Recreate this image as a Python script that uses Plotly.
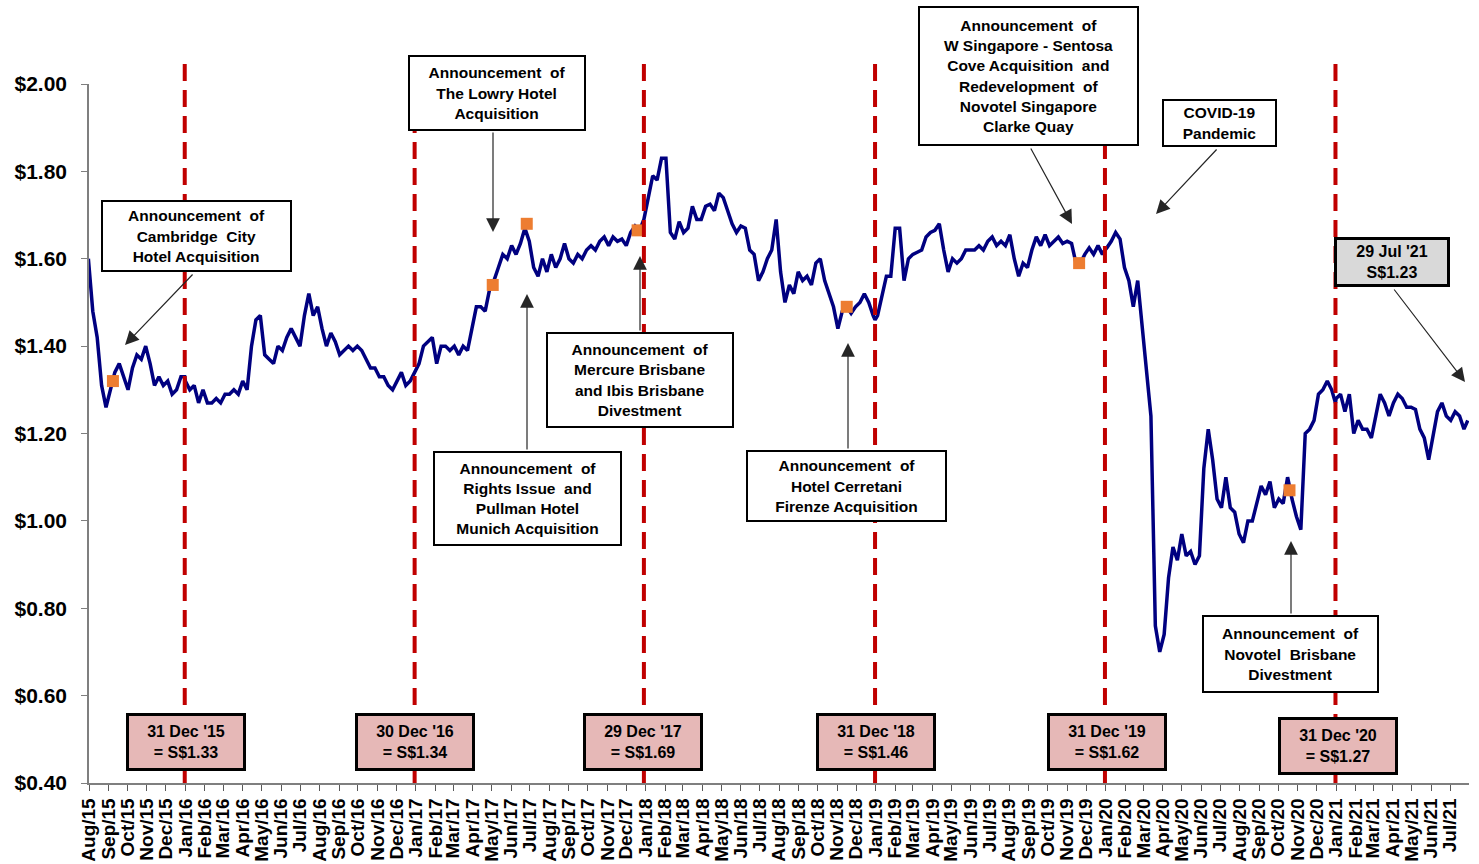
import pandas as pd
import plotly.graph_objects as go

# ---------------------------------------------------------------------------
# Data
# ---------------------------------------------------------------------------
# Weekly closing unit price (S$), Friday closes from 31 Jul 2015 to 23 Jul 2021
week_ending = pd.date_range("2015-07-31", "2021-07-23", freq="W-FRI")
weekly_close = [
    1.60, 1.48, 1.42, 1.31, 1.26, 1.30, 1.34, 1.36, 1.33, 1.30,
    1.35, 1.38, 1.37, 1.40, 1.36, 1.31, 1.33, 1.31, 1.32, 1.29,
    1.30, 1.33, 1.32, 1.30, 1.31, 1.27, 1.30, 1.27, 1.27, 1.28,
    1.27, 1.29, 1.29, 1.30, 1.29, 1.32, 1.30, 1.40, 1.46, 1.47,
    1.38, 1.37, 1.36, 1.40, 1.39, 1.42, 1.44, 1.42, 1.40, 1.47,
    1.52, 1.47, 1.49, 1.44, 1.40, 1.43, 1.41, 1.38, 1.39, 1.40,
    1.39, 1.40, 1.39, 1.37, 1.35, 1.35, 1.33, 1.33, 1.31, 1.30,
    1.32, 1.34, 1.31, 1.32, 1.34, 1.36, 1.40, 1.41, 1.42, 1.36,
    1.40, 1.40, 1.39, 1.40, 1.38, 1.40, 1.39, 1.44, 1.49, 1.49,
    1.48, 1.53, 1.55, 1.58, 1.61, 1.60, 1.63, 1.61, 1.635, 1.67,
    1.64, 1.58, 1.56, 1.60, 1.57, 1.61, 1.58, 1.60, 1.635, 1.60,
    1.59, 1.61, 1.60, 1.62, 1.63, 1.62, 1.64, 1.65, 1.63, 1.65,
    1.64, 1.645, 1.63, 1.66, 1.675, 1.665, 1.69, 1.74, 1.79, 1.78,
    1.83, 1.83, 1.66, 1.645, 1.685, 1.66, 1.67, 1.72, 1.69, 1.69,
    1.72, 1.725, 1.71, 1.75, 1.74, 1.71, 1.68, 1.66, 1.675, 1.67,
    1.62, 1.61, 1.55, 1.57, 1.60, 1.62, 1.69, 1.57, 1.50, 1.54,
    1.52, 1.57, 1.55, 1.56, 1.54, 1.59, 1.60, 1.55, 1.52, 1.49,
    1.44, 1.48, 1.49, 1.475, 1.49, 1.50, 1.52, 1.50, 1.47, 1.47,
    1.52, 1.56, 1.56, 1.67, 1.67, 1.55, 1.60, 1.61, 1.615, 1.62,
    1.65, 1.66, 1.665, 1.68, 1.62, 1.57, 1.60, 1.59, 1.60, 1.62,
    1.62, 1.62, 1.63, 1.62, 1.64, 1.65, 1.63, 1.64, 1.63, 1.655,
    1.60, 1.56, 1.59, 1.58, 1.62, 1.65, 1.63, 1.655, 1.63, 1.64,
    1.65, 1.635, 1.64, 1.635, 1.59, 1.59, 1.61, 1.625, 1.61, 1.63,
    1.61, 1.625, 1.64, 1.66, 1.645, 1.58, 1.55, 1.49, 1.55, 1.45,
    1.35, 1.24, 0.76, 0.70, 0.74, 0.87, 0.94, 0.91, 0.97, 0.92,
    0.93, 0.90, 0.92, 1.12, 1.21, 1.14, 1.05, 1.03, 1.10, 1.03,
    1.02, 0.97, 0.95, 1.00, 1.00, 1.04, 1.08, 1.06, 1.09, 1.03,
    1.05, 1.04, 1.10, 1.05, 1.01, 0.98, 1.20, 1.21, 1.23, 1.29,
    1.30, 1.32, 1.30, 1.28, 1.29, 1.25, 1.29, 1.20, 1.23, 1.21,
    1.21, 1.19, 1.24, 1.29, 1.27, 1.24, 1.27, 1.29, 1.28, 1.26,
    1.26, 1.255, 1.21, 1.19, 1.14, 1.19, 1.25, 1.27, 1.24, 1.23,
    1.25, 1.24, 1.21,
]
assert len(weekly_close) == len(week_ending)

# Year-end closes and the latest close
year_end_dates = ["2015-12-31", "2016-12-30", "2017-12-29",
                  "2018-12-31", "2019-12-31", "2020-12-31"]
year_end_labels = ["31 Dec '15", "30 Dec '16", "29 Dec '17",
                   "31 Dec '18", "31 Dec '19", "31 Dec '20"]
year_end_close = [1.33, 1.34, 1.69, 1.46, 1.62, 1.27]
latest_date = "2021-07-29"
latest_label = "29 Jul '21"
latest_close = 1.23

# Corporate announcements (date, closing price)
event_dates = ["2015-09-08", "2017-05-03", "2017-06-26", "2017-12-19",
               "2018-11-16", "2019-11-20", "2020-10-19"]
event_close = [1.32, 1.54, 1.68, 1.665, 1.49, 1.59, 1.07]

# Full price series: weekly closes plus the dated closes quoted in the boxes
price = pd.concat([
    pd.Series(weekly_close, index=week_ending),
    pd.Series(year_end_close + [latest_close],
              index=pd.to_datetime(year_end_dates + [latest_date])),
])
price = price[~price.index.duplicated(keep="last")].sort_index()

# ---------------------------------------------------------------------------
# Layout helpers
# ---------------------------------------------------------------------------
W, H = 1479, 864
M = dict(l=89, r=10, t=84, b=81)
PW = W - M["l"] - M["r"]
PH = H - M["t"] - M["b"]
FONT = "Liberation Sans, Arial, sans-serif"


def paper_x(px):
    return (px - M["l"]) / PW


def paper_y(py):
    return (H - M["b"] - py) / PH


fig = go.Figure()

fig.add_trace(go.Scatter(
    x=price.index, y=price.values, mode="lines",
    line=dict(color="#000080", width=3.5), hoverinfo="skip", showlegend=False,
))
fig.add_trace(go.Scatter(
    x=pd.to_datetime(event_dates), y=event_close, mode="markers",
    marker=dict(symbol="square", size=12, color="#ED7D31"),
    hoverinfo="skip", showlegend=False,
))

# Year-end reference lines
for d in year_end_dates:
    fig.add_shape(
        type="line", xref="x", yref="paper", x0=d, x1=d,
        y0=0, y1=paper_y(55), layer="above",
        line=dict(color="#C00000", width=4, dash="17px,9px"),
    )

annotations = []


def text_box(lines, cx, cy, w, h, bg="white", bw=2, size=15.5):
    annotations.append(dict(
        xref="paper", yref="paper", x=paper_x(cx), y=paper_y(cy),
        xanchor="center", yanchor="middle", showarrow=False,
        text="<br>".join(lines), align="center", valign="middle",
        width=w - 2 * bw, height=h - 2 * bw, borderpad=0,
        bgcolor=bg, bordercolor="black", borderwidth=bw,
        font=dict(family=FONT, size=size, color="black", weight="bold"),
    ))


def arrow(tx, ty, hx, hy):
    annotations.append(dict(
        xref="paper", yref="paper", x=paper_x(hx), y=paper_y(hy),
        axref="pixel", ayref="pixel", ax=tx - hx, ay=ty - hy,
        text="", showarrow=True, arrowhead=2, arrowsize=2.3,
        arrowwidth=1.2, arrowcolor="#262626", standoff=0,
    ))


ANN = "Announcement\u00a0 of"
text_box([ANN, "Cambridge\u00a0 City", "Hotel Acquisition"], 196.5, 236, 191, 72)
arrow(194, 273, 125, 345)
text_box([ANN, "The Lowry Hotel", "Acquisition"], 497, 93, 178, 76)
arrow(493, 131, 493, 232)
text_box([ANN, "Rights Issue\u00a0 and", "Pullman Hotel", "Munich Acquisition"],
         527.5, 498.5, 189, 95)
arrow(527, 451, 527, 294)
text_box([ANN, "Mercure Brisbane", "and Ibis Brisbane", "Divestment"],
         640, 380, 188, 96)
arrow(640, 332, 640, 256)
text_box([ANN, "Hotel Cerretani", "Firenze Acquisition"], 846.5, 486, 201, 72)
arrow(848, 450, 848, 343)
text_box([ANN, "W Singapore - Sentosa", "Cove Acquisition\u00a0 and",
          "Redevelopment\u00a0 of", "Novotel Singapore", "Clarke Quay"],
         1028.5, 76, 221, 140)
arrow(1030, 147, 1072, 224)
text_box(["COVID-19", "Pandemic"], 1219.5, 123, 115, 48)
arrow(1218, 148, 1156, 214)
text_box([ANN, "Novotel\u00a0 Brisbane", "Divestment"], 1290.5, 654, 177, 78)
arrow(1291, 615, 1291, 541)
text_box([latest_label, f"S${latest_close:.2f}"], 1392, 262, 116, 50,
         bg="#D9D9D9", bw=3, size=16)
arrow(1393, 288, 1465, 382)

# Year-end value boxes
year_box_centres = [(186, 742), (415, 742), (642.5, 742),
                    (875.5, 742), (1107, 742), (1338, 745.5)]
for lab, val, (cx, cy) in zip(year_end_labels, year_end_close, year_box_centres):
    text_box([lab, f"= S${val:.2f}"], cx, cy, 120, 58, bg="#E6B8B7", bw=3, size=16)

fig.update_layout(
    width=W, height=H, margin=M,
    paper_bgcolor="white", plot_bgcolor="white",
    annotations=annotations, showlegend=False,
    xaxis=dict(
        type="date", range=["2015-08-01", "2021-07-31"],
        tick0="2015-08-01", dtick="M1", tickformat="%b/%y", tickangle=-90,
        showgrid=False, zeroline=False, showline=True,
        linecolor="#7f7f7f", linewidth=1.5,
        ticks="outside", ticklen=6, tickcolor="#595959", tickwidth=1,
        tickfont=dict(family=FONT, size=19, color="black", weight="bold"),
        automargin=False,
    ),
    yaxis=dict(
        range=[0.4, 2.0], tick0=0.4, dtick=0.2, tickformat="$.2f",
        showgrid=False, zeroline=False, showline=True,
        linecolor="#7f7f7f", linewidth=1.5,
        ticks="outside", ticklen=6, tickcolor="#7f7f7f", tickwidth=1,
        ticklabelstandoff=10,
        tickfont=dict(family=FONT, size=21, color="black", weight="bold"),
        automargin=False,
    ),
)

fig.write_html("out.html")
